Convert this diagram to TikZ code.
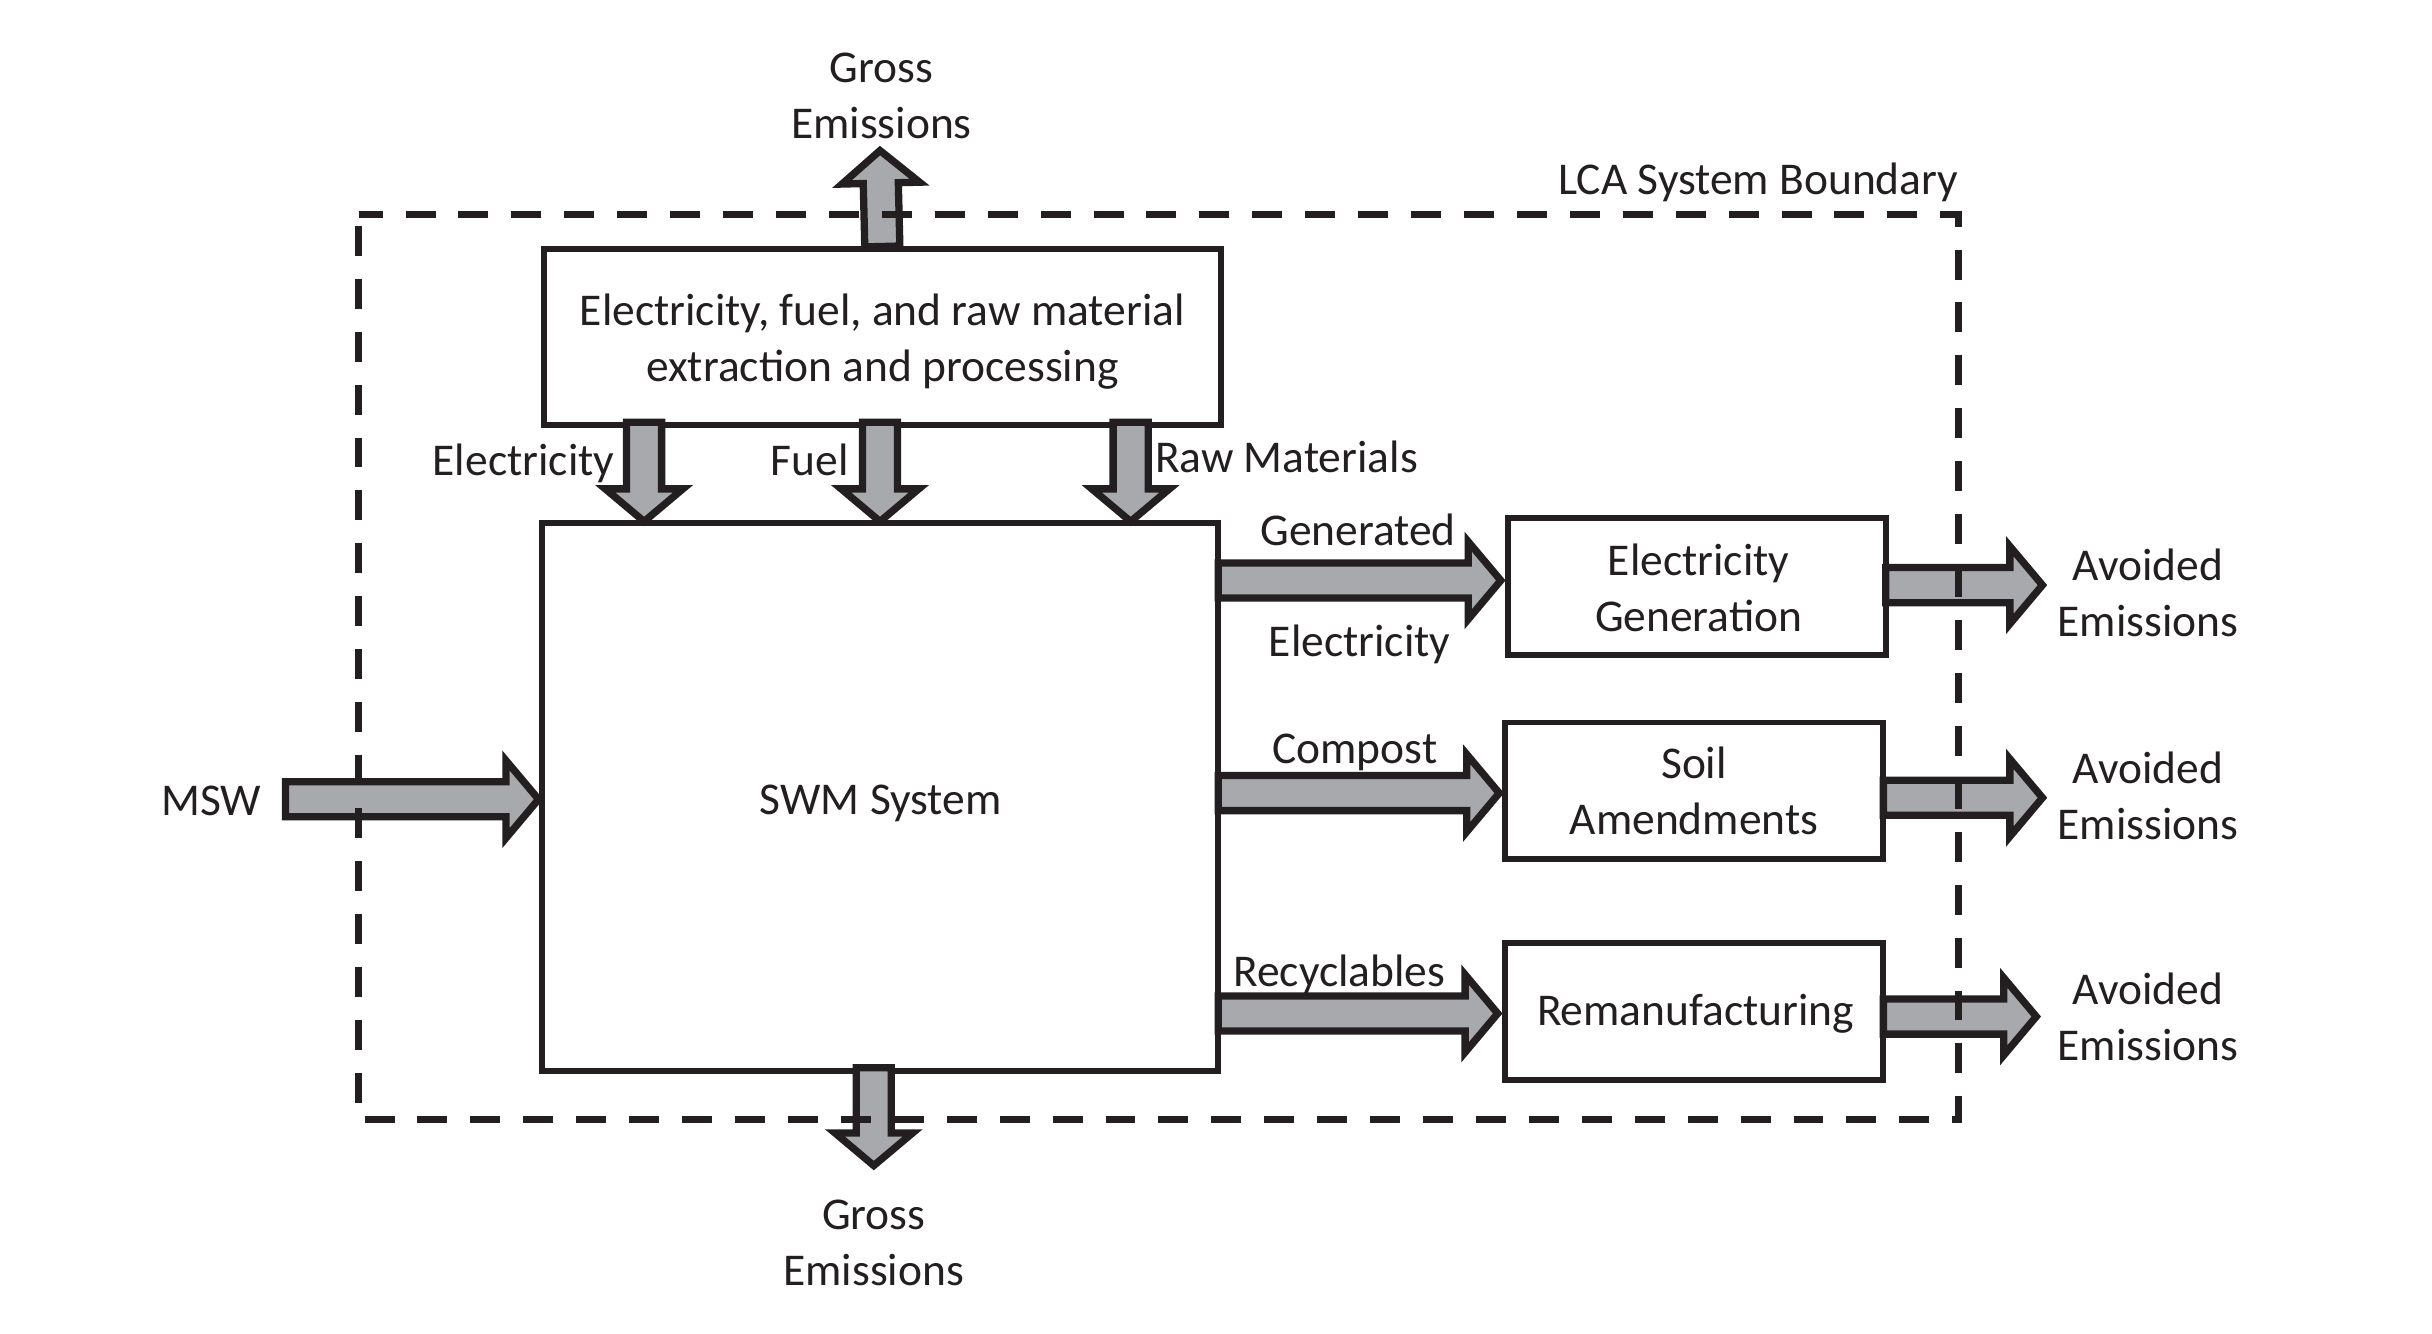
\documentclass[tikz,border=0pt]{standalone}
\usepackage{fontspec}
\setmainfont{Carlito}
\usetikzlibrary{calc}
\definecolor{ink}{HTML}{231F20}
\definecolor{arrowgray}{HTML}{A7A9AC}
\newcommand{\fatarrow}[3]{%
  \coordinate (#3h) at ($(#2)!21pt!(#1)$);
  \filldraw[fatarr] ($(#1)!11.3pt!90:(#2)$) -- ($(#3h)!11.3pt!90:(#2)$) -- ($(#3h)!25pt!90:(#2)$) -- (#2) -- ($(#3h)!25pt!-90:(#2)$) -- ($(#3h)!11.3pt!-90:(#2)$) -- ($(#1)!11.3pt!-90:(#2)$) -- cycle;}
\begin{document}
\begin{tikzpicture}[x=1pt,y=-1pt,
  every node/.style={font=\fontsize{29.3}{36}\selectfont, text=ink},
  box/.style={draw=ink, line width=3.8pt, fill=white, align=center, inner sep=0pt},
  lbl/.style={inner sep=0pt},
  ml/.style={inner sep=0pt, align=center},
  fatarr/.style={draw=ink, fill=arrowgray, line width=4.7pt, line join=miter},
  boundary/.style={draw=ink, line width=4.5pt, dash pattern=on 19.3pt off 14.8pt, dash phase=-7pt}]
\useasboundingbox (0,0) rectangle (1567,858.9);
% boxes
\node[box, minimum width=436pt, minimum height=113pt] (ext) at (568.5,217.2) {};
\node[ml] (extt) at (568.5,220.2) {Electricity, fuel, and raw material\\extraction and processing};
\node[box, minimum width=436pt, minimum height=353pt] (swm) at (567,513.4) {};
\node[lbl, anchor=base] (swmt) at (567.5,524.5) {SWM System};
\node[box, minimum width=243.5pt, minimum height=88pt] (eg) at (1093.5,378) {};
\node[ml] (egt) at (1094.5,379) {Electricity\\Generation};
\node[box, minimum width=244pt, minimum height=88pt] (sa) at (1091.5,509.5) {Soil\\Amendments};
\node[box, minimum width=244pt, minimum height=88pt] (rm) at (1091.5,651.8) {};
\node[ml] (rmt) at (1092.5,653.3) {Remanufacturing};
% coordinates
\coordinate (gtop) at (567,97);
\coordinate (e1s) at (415,272);
\coordinate (e1e) at (415,336);
\coordinate (f1s) at (567,272);
\coordinate (f1e) at (567,336);
\coordinate (r1s) at (728.5,272);
\coordinate (r1e) at (728.5,336);
\coordinate (msws) at (184,515);
\coordinate (mswe) at (347,515);
\coordinate (gbs) at (563,688);
\coordinate (gbe) at (563,751);
\coordinate (gens) at (785,374);
\coordinate (gene) at (967,374);
\coordinate (coms) at (785,511);
\coordinate (come) at (966,511);
\coordinate (recs) at (785,653);
\coordinate (rece) at (965,653);
\coordinate (av1s) at (1215,377);
\coordinate (av1e) at (1316,377);
\coordinate (av2s) at (1213.5,514);
\coordinate (av2e) at (1316,514);
\coordinate (av3s) at (1213.5,655);
\coordinate (av3e) at (1312,655);
% arrows
\fatarrow{ext.north}{gtop}{a}
\fatarrow{e1s}{e1e}{b}
\fatarrow{f1s}{f1e}{c}
\fatarrow{r1s}{r1e}{d}
\fatarrow{msws}{mswe}{e}
\fatarrow{gbs}{gbe}{f}
\fatarrow{gens}{gene}{g}
\fatarrow{coms}{come}{h}
\fatarrow{recs}{rece}{i}
\fatarrow{av1s}{av1e}{j}
\fatarrow{av2s}{av2e}{k}
\fatarrow{av3s}{av3e}{l}
% boundary
\coordinate (bnw) at (231.3,138.5);
\coordinate (bse) at (1262,721.6);
\draw[boundary] (bnw) rectangle (bse);
% labels
\node[lbl, anchor=base east] (lca) at (1262,125) {LCA System Boundary};
\node[ml] (gt) at (568,62) {Gross\\Emissions};
\node[ml] (gb) at (563,801) {Gross\\Emissions};
\node[lbl, anchor=base east] (le) at (396,306.5) {Electricity};
\node[lbl, anchor=base east] (lf) at (547,306.5) {Fuel};
\node[lbl, anchor=base west] (lr) at (744,304.5) {Raw Materials};
\node[lbl, anchor=base] (lg1) at (875,351.6) {Generated};
\node[lbl, anchor=base] (lg2) at (876,423) {Electricity};
\node[lbl, anchor=base] (lc) at (873,491.7) {Compost};
\node[lbl, anchor=base] (lrc) at (863,635.5) {Recyclables};
\node[lbl, anchor=base] (lm) at (136,525.5) {MSW};
\node[ml] (av1) at (1384,382) {Avoided\\Emissions};
\node[ml] (av2) at (1384,513) {Avoided\\Emissions};
\node[ml] (av3) at (1384,655) {Avoided\\Emissions};
\end{tikzpicture}
\end{document}
